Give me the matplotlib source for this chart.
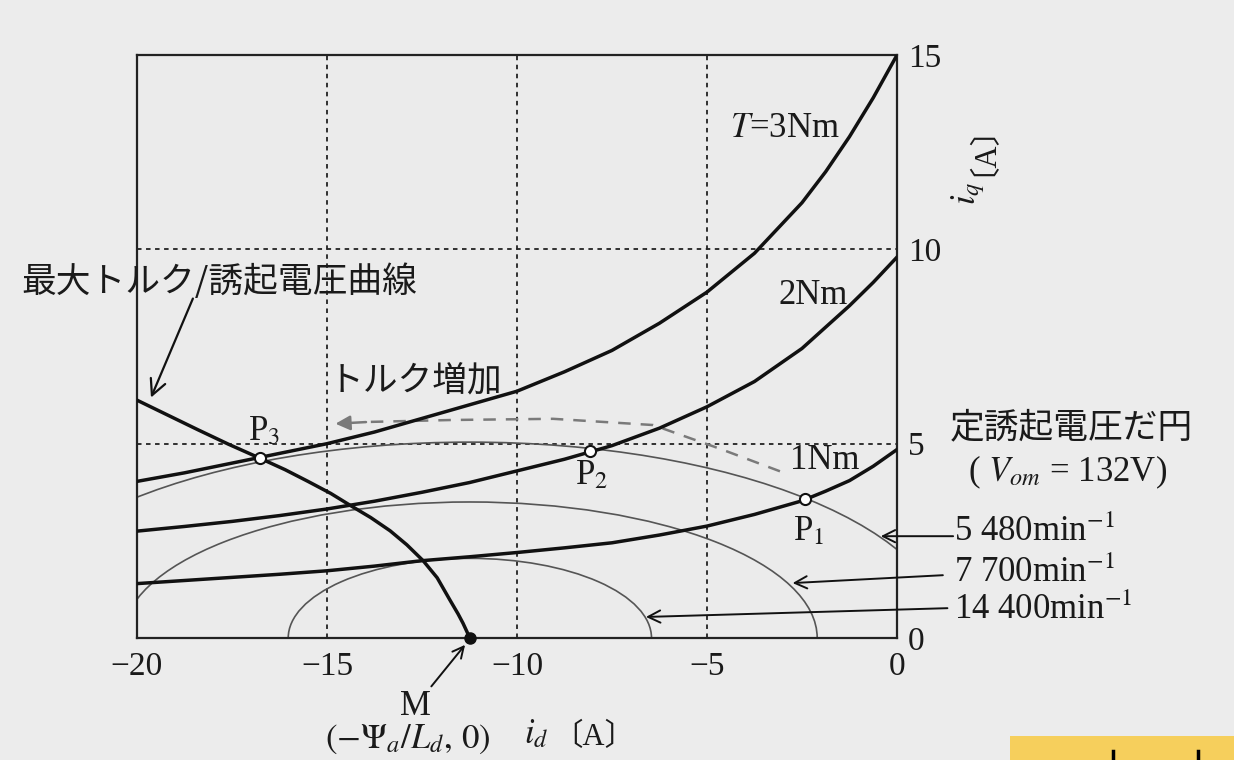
import matplotlib
matplotlib.use("Agg")
from matplotlib import pyplot as plt
from matplotlib.patches import Arc, Rectangle
from matplotlib.lines import Line2D

plt.rcParams['mathtext.fontset'] = 'stix'
SERIF = ['Liberation Serif', 'DejaVu Serif']
JP = ['Noto Sans CJK JP', 'DejaVu Sans']
MIX = ['Liberation Serif', 'Noto Sans CJK JP']

# torque curves
ID = [-20, -18.75, -17.5, -16.25, -15, -13.75, -12.5, -11.25, -10, -8.75,
      -7.5, -6.25, -5, -3.75, -2.5, -1.875, -1.25, -0.625, 0]
IQ_T3 = [4.03, 4.25, 4.5, 4.75, 5.0, 5.3, 5.65, 6.0, 6.35, 6.85,
         7.4, 8.1, 8.9, 9.9, 11.2, 12.0, 12.9, 13.9, 15.0]
IQ_T2 = [2.75, 2.87, 3.0, 3.15, 3.32, 3.52, 3.75, 4.0, 4.3, 4.6,
         4.95, 5.4, 5.95, 6.6, 7.45, 8.0, 8.55, 9.15, 9.8]
IQ_T1 = [1.40, 1.48, 1.56, 1.64, 1.73, 1.85, 1.99, 2.09, 2.2, 2.32,
         2.45, 2.65, 2.88, 3.18, 3.53, 3.78, 4.05, 4.42, 4.85]

# max torque / induced voltage curve
MT_ID = [-20, -19.2, -18.4, -17.6, -16.75, -16.1, -15.5, -14.9, -14.4, -13.85,
         -13.34, -12.9, -12.47, -12.1, -11.76, -11.55, -11.42, -11.24]
MT_IQ = [6.12, 5.74, 5.36, 4.99, 4.62, 4.33, 4.03, 3.72, 3.42, 3.1,
         2.76, 2.4, 1.99, 1.55, 0.97, 0.62, 0.38, 0.0]

# constant voltage ellipses: centre M, half axes
M_ID = -11.24
SPEEDS = ['5 480', '7 700', '14 400']
ELL_A = [12.6, 9.14, 4.78]
ELL_B = [5.04, 3.5, 2.05]

# operating points
P_NAMES = ['1', '2', '3']
P_ID = [-2.42, -8.08, -16.75]
P_IQ = [3.58, 4.82, 4.62]

# "torque increase" dashed path
DASH_ID = [-3.08, -4.66, -6.42, -9.05, -11.7, -13.9]
DASH_IQ = [4.29, 4.87, 5.48, 5.64, 5.61, 5.56]
DASH_TIP = (-14.85, 5.51)

XTICKS = [-20, -15, -10, -5, 0]
YTICKS = [0, 5, 10, 15]

fig = plt.figure(figsize=(12.34, 7.6), dpi=100, facecolor='#ececec')
ax = fig.add_axes([0.111, 0.1605, 0.6159, 0.7671])
ax.set_facecolor('#ebebeb')
ax.set_xlim(-20, 0)
ax.set_ylim(0, 15)

for s in ax.spines.values():
    s.set_linewidth(1.6)
    s.set_color('#222222')

ax.set_xticks(XTICKS)
ax.set_xticklabels(['\u221220', '\u221215', '\u221210', '\u22125', '0'])
ax.yaxis.tick_right()
ax.set_yticks(YTICKS)
ax.tick_params(length=0, labelsize=24, colors='#1a1a1a')
ax.tick_params(axis='x', pad=10)
ax.tick_params(axis='y', pad=8)
for lab in ax.get_xticklabels() + ax.get_yticklabels():
    lab.set_family(SERIF)

for x in XTICKS[1:-1]:
    ax.axvline(x, color='#222222', lw=1.3, ls=(0, (2.5, 2.5)), zorder=1)
for y in YTICKS[1:-1]:
    ax.axhline(y, color='#222222', lw=1.3, ls=(0, (2.5, 2.5)), zorder=1)

# ellipses
for a, b in zip(ELL_A, ELL_B):
    ax.add_patch(Arc((M_ID, 0), 2 * a, 2 * b, theta1=0, theta2=180,
                     color='#555555', lw=1.2, zorder=2))

# torque curves
for iq in (IQ_T1, IQ_T2, IQ_T3):
    ax.plot(ID, iq, color='#111111', lw=2.5, zorder=3, solid_joinstyle='round')
ax.plot(MT_ID, MT_IQ, color='#111111', lw=2.5, zorder=3, solid_joinstyle='round')

# dashed arrow
ax.plot(DASH_ID, DASH_IQ, color='#7a7a7a', lw=1.8, ls=(0, (5, 4)), zorder=2)
ax.annotate('', xy=DASH_TIP, xytext=(DASH_ID[-1], DASH_IQ[-1]),
            arrowprops=dict(arrowstyle='-|>', color='#7a7a7a', lw=1.8,
                            mutation_scale=22), zorder=2)

# points
ax.plot(P_ID, P_IQ, 'o', ms=8, mfc='white', mec='#111111', mew=1.5, zorder=5)
ax.plot([M_ID], [0], 'o', ms=8, color='#111111', zorder=5, clip_on=False)

tkw = dict(family=SERIF, fontsize=25, color='#1a1a1a')
ax.text(-2.95, 13.1, '$T$=3Nm', ha='center', va='center', **tkw)
ax.text(-2.21, 8.82, '2Nm', ha='center', va='center', **tkw)
ax.text(-1.9, 4.58, '1Nm', ha='center', va='center', **tkw)
offs = [(0.1, -0.85), (0.05, -0.65), (0.1, 0.7)]
for n, x, y, (dx, dy) in zip(P_NAMES, P_ID, P_IQ, offs):
    ax.text(x + dx, y + dy, 'P$_{%s}$' % n, ha='center', va='center', **tkw)

jkw = dict(family=JP, fontsize=25, color='#1a1a1a')
ax.text(-14.95, 6.58, 'トルク増加', ha='left', va='center', zorder=4, **jkw)
ax.text(-23.05, 9.15, '最大トルク/誘起電圧曲線', ha='left', va='center',
        clip_on=False, **jkw)
ax.annotate('', xy=(-19.66, 6.12), xytext=(-18.5, 8.8),
            arrowprops=dict(arrowstyle='->', color='#111111', lw=1.6,
                            mutation_scale=28), annotation_clip=False)

ax.text(4.6, 5.42, '定誘起電圧だ円', ha='center', va='center', clip_on=False, **jkw)
ax.text(4.5, 4.27, '( $V_{om}$ = 132V)', ha='center', va='center', clip_on=False, **tkw)

SPEED_Y = [2.72, 1.67, 0.72]
ARROW_FROM = [(1.55, 2.62), (1.28, 1.62), (1.4, 0.77)]
ARROW_TO = [(-0.5, 2.62), (-2.82, 1.41), (-6.68, 0.54)]
for sp, y, fr, to in zip(SPEEDS, SPEED_Y, ARROW_FROM, ARROW_TO):
    ax.text(1.5, y, sp + 'min$^{-1}$', ha='left', va='center', clip_on=False, **tkw)
    ax.annotate('', xy=to, xytext=fr,
                arrowprops=dict(arrowstyle='->', color='#111111', lw=1.4,
                                mutation_scale=22), annotation_clip=False)

# M label and axis labels
ax.text(-12.68, -1.75, 'M', ha='center', va='center', clip_on=False, **tkw)
ax.text(-12.87, -2.6, r'$(-\Psi_a/L_d,\,0)$', ha='center', va='center',
        clip_on=False, **tkw)
ax.annotate('', xy=(-11.32, -0.12), xytext=(-12.3, -1.3),
            arrowprops=dict(arrowstyle='->', color='#111111', lw=1.4,
                            mutation_scale=20), annotation_clip=False)
ax.text(-9.5, -2.5, '$i_d$', ha='center', va='center', clip_on=False, **tkw)
ax.text(-7.97, -2.55, '〔A〕', ha='center', va='center', clip_on=False,
        family=MIX, fontsize=22, color='#1a1a1a')
ax.text(1.87, 11.45, '$i_q$', ha='center', va='center', rotation=90,
        clip_on=False, **tkw)
ax.text(1.87, 12.95, '〔A〕', ha='center', va='center', rotation=90,
        clip_on=False, family=MIX, fontsize=22, color='#1a1a1a')

# scan artefact at the bottom right corner
fig.patches.append(Rectangle((0.8185, 0), 0.1815, 0.032, transform=fig.transFigure,
                             facecolor='#f6cf5c', edgecolor='none', zorder=0))
for xs, ys in (([0.902, 0.902], [0.0, 0.012]), ([0.971, 0.971], [0.0, 0.012])):
    fig.lines.append(Line2D(xs, ys, transform=fig.transFigure, color='black', lw=2.5))

fig.savefig('out.png', dpi=100, facecolor=fig.get_facecolor())
